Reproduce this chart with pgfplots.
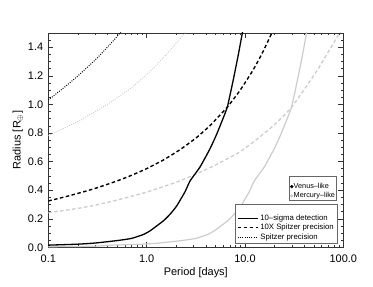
\documentclass[border=0pt]{standalone}
\usepackage{fontspec}
\setmainfont{Liberation Sans}
\usepackage{pgfplots}
\pgfplotsset{compat=1.18}
\usetikzlibrary{calc}
\definecolor{lgray}{gray}{0.80}
\begin{document}
\begin{tikzpicture}
\begin{axis}[name=ax, scale only axis, width=295bp, height=214.5bp,
  xmode=log, xmin=0.1, xmax=100, ymin=0, ymax=1.5,
  xtick={0.1,1,10,100}, xticklabels={0.1,1.0,10.0,100.0},
  minor xtick={0.2,0.3,0.4,0.5,0.6,0.7,0.8,0.9,2,3,4,5,6,7,8,9,20,30,40,50,60,70,80,90},
  ytick={0,0.2,0.4,0.6,0.8,1.0,1.2,1.4},
  minor ytick={0.05,0.1,0.15,0.25,0.3,0.35,0.45,0.5,0.55,0.65,0.7,0.75,0.85,0.9,0.95,1.05,1.1,1.15,1.25,1.3,1.35,1.45},
  yticklabel style={xshift=-1.6bp, /pgf/number format/.cd, fixed, fixed zerofill, precision=1},
  /pgf/number format/assume math mode=true,
  tick align=inside, major tick length=5bp, minor tick length=2.5bp,
  tick label style={font=\fontsize{11}{13}\selectfont},
  label style={font=\fontsize{11}{13}\selectfont},
  xlabel={Period [days]}, ylabel={Radius [R$_\oplus$]},
  xlabel style={at={(axis description cs:0.5,-0.1175)}, anchor=center},
  ylabel style={at={(axis description cs:-0.103,0.5)}, anchor=center},
  xticklabel style={yshift=-4.5bp},
  axis line style={black!80, line width=0.5bp},
  every tick/.style={black!80, line width=0.4bp},
  legend style={at={(axis description cs:0.9797,0.0186)}, anchor=south east,
    draw=black!60, line width=0.5bp, font=\fontsize{7.8}{9}\selectfont,
    inner xsep=1.3bp, inner ysep=1.5bp, row sep=1.6bp,
    nodes={inner xsep=2bp, inner ysep=0.5bp}},
  legend cell align=left,
  legend image code/.code={\draw[#1] (0bp,0bp) -- (20bp,0bp);},
]
\addlegendimage{empty legend}
\addlegendentry{\rule{0pt}{4bp}}
\addlegendimage{black, line width=1.1bp}
\addlegendentry{10--sigma detection}
\addlegendimage{black, line width=1.3bp, dash pattern=on 3.5bp off 2.5bp}
\addlegendentry{10X Spitzer precision}
\addlegendimage{black, line width=0.9bp, dash pattern=on 0.9bp off 1.4bp}
\addlegendentry{Spitzer precision}

% Mercury-like (grey)
\addplot[lgray, line width=1.2bp, smooth, tension=0.3, forget plot] coordinates {
(0.1,0.004) (0.2,0.006) (0.3,0.008) (0.45,0.015) (0.9,0.022) (1.35,0.03) (2.25,0.047)
(3.15,0.062) (4.185,0.09) (4.87,0.115) (6.66,0.185) (7.875,0.235) (9.11,0.29) (11.07,0.389)
(12.44,0.464) (15.72,0.562) (19.87,0.69) (23.24,0.792) (28.24,0.937) (29.79,0.98)
(34.29,1.174) (38.57,1.349) (42.35,1.5) (44.55,1.585)};
\addplot[lgray, line width=1.3bp, dash pattern=on 3.5bp off 2.5bp, smooth, tension=0.3, forget plot] coordinates {
(0.1,0.242) (0.2,0.272) (0.3,0.295) (0.5,0.330) (1.0,0.386) (2.0,0.455) (3.0,0.505) (5.0,0.575)
(8.9,0.668) (13.5,0.76) (20,0.858) (30,0.982) (54,1.235) (89,1.485) (100,1.54)};
\addplot[lgray, line width=0.9bp, dash pattern=on 0.9bp off 1.4bp, smooth, tension=0.3, forget plot] coordinates {
(0.1,0.78) (0.2,0.88) (0.4,1.0) (0.73,1.125) (1.2,1.26) (1.8,1.39) (2.46,1.5) (3.0,1.57)};

% Venus-like (black)
\addplot[black, line width=1.3bp, smooth, tension=0.3, forget plot] coordinates {
(0.1,0.015) (0.2,0.022) (0.3,0.03) (0.5,0.047) (0.7,0.062) (0.93,0.09) (1.083,0.115)
(1.479,0.185) (1.75,0.235) (2.024,0.29) (2.459,0.389) (2.764,0.464) (3.493,0.562) (4.416,0.69)
(5.165,0.792) (6.276,0.937) (6.62,0.98) (7.62,1.174) (8.57,1.349) (9.41,1.5) (9.9,1.585)};
\addplot[black, line width=1.4bp, dash pattern=on 3.5bp off 2.5bp, smooth, tension=0.3, forget plot] coordinates {
(0.1,0.324) (0.15,0.354) (0.2,0.377) (0.3,0.412) (0.5,0.464) (0.7,0.503) (1.0,0.55) (1.5,0.613)
(2.2,0.684) (3.2,0.766) (4.5,0.857) (6.6,0.98) (8.9,1.097) (12,1.236) (15,1.358) (18.7,1.497) (21,1.578)};
\addplot[black, line width=1bp, dash pattern=on 0.9bp off 1.4bp, smooth, tension=0.3, forget plot] coordinates {
(0.1,1.03) (0.15,1.126) (0.2,1.199) (0.3,1.31) (0.4,1.40) (0.5,1.474) (0.6,1.54)};
\end{axis}
\begin{axis}[scale only axis, width=295bp, height=214.5bp, hide axis,
  xmin=0, xmax=1, ymin=0, ymax=1,
  legend style={at={(axis description cs:0.9776,0.2159)}, anchor=south east,
    draw=black!60, line width=0.5bp, font=\fontsize{7.3}{8.5}\selectfont,
    inner xsep=1.2bp, inner ysep=1bp, row sep=1.5bp,
    nodes={inner xsep=0.3bp, inner ysep=0.5bp}},
  legend cell align=left,
  legend image code/.code={\fill[#1] (0bp,0bp) circle (1.4bp);},
]
\addlegendimage{empty legend}
\addlegendentry{\rule{0pt}{1.5bp}}
\addlegendimage{black}
\addlegendentry{Venus--like}
\addlegendimage{lgray}
\addlegendentry{Mercury--like}
\end{axis}
\path ($(ax.south west)+(-48.3bp,-38.7bp)$) rectangle ($(ax.north east)+(29.7bp,32.8bp)$);
\end{tikzpicture}
\end{document}
